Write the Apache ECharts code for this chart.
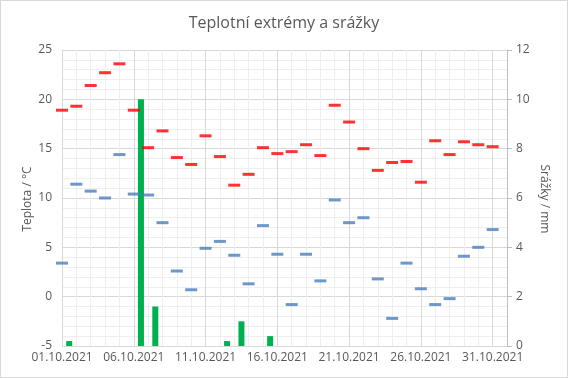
<!DOCTYPE html>
<html>
<head>
<meta charset="utf-8">
<script src="https://cdn.jsdelivr.net/npm/echarts@6/dist/echarts.min.js"></script>
<style>
  html, body { margin: 0; padding: 0; background: #fff; }
  #chart { width: 568px; height: 378px; box-sizing: border-box; border: 1px solid #d9d9d9; }
</style>
</head>
<body>
<div id="chart"></div>
<script>
  // dny v říjnu 2021 (1..31)
  var days = [1,2,3,4,5,6,7,8,9,10,11,12,13,14,15,16,17,18,19,20,21,22,23,24,25,26,27,28,29,30,31];
  var tickDays = [1, 6, 11, 16, 21, 26, 31];
  // maximální teploty °C
  var tMax = [18.9,19.3,21.4,22.7,23.6,18.9,15.1,16.8,14.1,13.4,16.3,14.2,11.3,12.4,15.1,14.5,
              14.7,15.4,14.3,19.4,17.7,15.0,12.8,13.6,13.7,11.6,15.8,14.4,15.7,15.4,15.2];
  // minimální teploty °C
  var tMin = [3.4,11.4,10.7,10.0,14.4,10.4,10.3,7.5,2.6,0.7,4.9,5.6,4.2,1.3,7.2,4.3,
              -0.8,4.3,1.6,9.8,7.5,8.0,1.8,-2.2,3.4,0.8,-0.8,-0.2,4.1,5.0,6.8];
  // srážky mm
  var srazky = [0.2,0,0,0,0,10.0,1.6,0,0,0,0,0.2,1.0,0,0.4,0,
                0,0,0,0,0,0,0,0,0,0,0,0,0,0,0];

  function dateLabel(d) {
    return (d < 10 ? '0' + d : d) + '.10.2021';
  }

  var maxData = days.map(function (d, i) { return [d - 1, tMax[i]]; });
  var minData = days.map(function (d, i) { return [d - 1, tMin[i]]; });
  var rainData = days.map(function (d, i) { return [d - 1 + 0.5, srazky[i]]; });

  var txt = '#595959';
  var font = 'Open Sans';

  var chart = echarts.init(document.getElementById('chart'));
  chart.setOption({
    animation: false,
    textStyle: { fontFamily: font },
    title: {
      text: 'Teplotní extrémy a srážky',
      left: 'center',
      top: 9,
      textStyle: { fontSize: 16, fontWeight: 'normal', color: txt, fontFamily: font }
    },
    // názvy os
    graphic: [{
      type: 'text',
      x: 27,
      y: 198,
      rotation: Math.PI / 2,
      style: {
        text: 'Teplota / °C',
        fill: txt,
        font: '12px "Open Sans"',
        align: 'center',
        verticalAlign: 'middle'
      }
    }, {
      type: 'text',
      x: 543,
      y: 198,
      rotation: -Math.PI / 2,
      style: {
        text: 'Srážky / mm',
        fill: txt,
        font: '12px "Open Sans"',
        align: 'center',
        verticalAlign: 'middle'
      }
    }],
    grid: { left: 61, right: 60, top: 49, bottom: 31 },
    xAxis: {
      type: 'value',
      min: 0,
      max: 31,
      interval: 1,
      axisLine: { show: false },
      axisTick: { show: false },
      axisLabel: {
        color: txt,
        fontSize: 12,
        margin: 6,
        formatter: function (v) {
          return tickDays.indexOf(v + 1) >= 0 ? dateLabel(v + 1) : '';
        }
      },
      splitLine: {
        show: true,
        lineStyle: { color: ['#d9d9d9', '#efefef', '#efefef', '#efefef', '#efefef'] }
      }
    },
    yAxis: [{
      type: 'value',
      min: -5,
      max: 25,
      interval: 5,
      axisLine: { show: false },
      axisTick: { show: false },
      axisLabel: { color: txt, fontSize: 12, margin: 10 },
      splitLine: { lineStyle: { color: '#d9d9d9' } },
      minorTick: { show: false, splitNumber: 5 },
      minorSplitLine: { show: true, lineStyle: { color: '#efefef' } }
    }, {
      type: 'value',
      min: 0,
      max: 12,
      interval: 2,
      position: 'right',
      axisLine: { show: true, lineStyle: { color: '#bfbfbf' } },
      axisTick: { show: true, length: 5, lineStyle: { color: '#bfbfbf' } },
      axisLabel: { color: txt, fontSize: 12, margin: 9 },
      splitLine: { show: false }
    }],
    series: [{
      name: 'Srážky',
      type: 'bar',
      yAxisIndex: 1,
      barWidth: 6,
      itemStyle: { color: '#00b050' },
      data: rainData,
      z: 2
    }, {
      name: 'Max',
      type: 'scatter',
      symbol: 'rect',
      symbolSize: [12, 3],
      itemStyle: { color: '#ff0000' },
      data: maxData,
      z: 3
    }, {
      name: 'Min',
      type: 'scatter',
      symbol: 'rect',
      symbolSize: [12, 3],
      itemStyle: { color: '#4a7ebb' },
      data: minData,
      z: 3
    }]
  });
</script>
</body>
</html>
